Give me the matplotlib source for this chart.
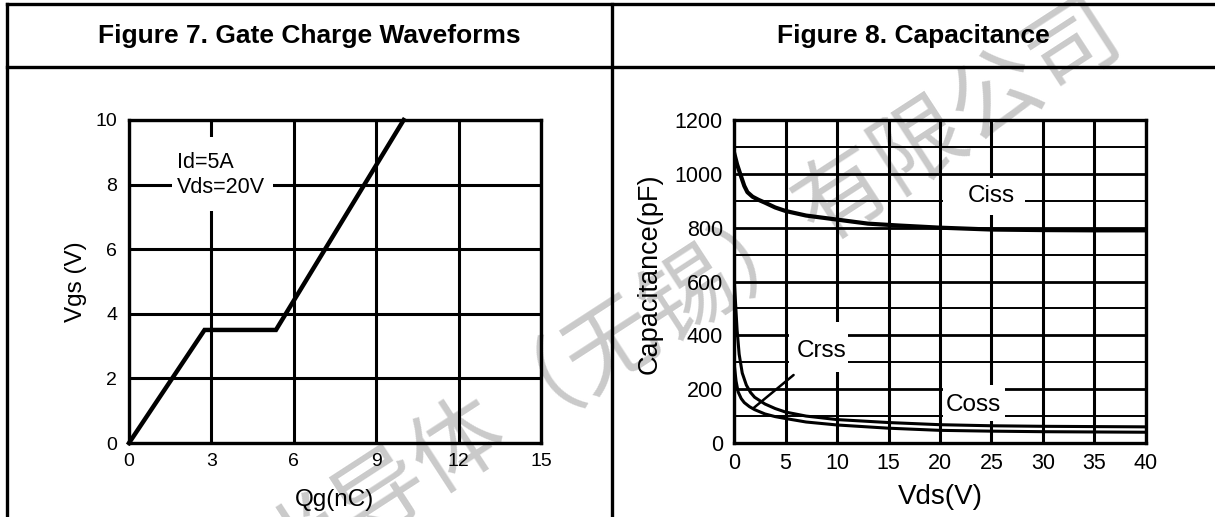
import matplotlib
matplotlib.use("Agg")
import matplotlib.pyplot as plt
from matplotlib.lines import Line2D
from matplotlib.patches import Rectangle

plt.rcParams["font.family"] = ["Liberation Sans", "DejaVu Sans"]

# figure 7: gate charge
qg = [0, 2.75, 5.35, 10.0]
vgs = [0, 3.5, 3.5, 10.0]

# figure 8: capacitance vs vds
ciss_v = [0, 0.3, 0.6, 1.0, 1.3, 1.8, 2.4, 3, 4, 5, 7, 10, 13, 16, 20, 25, 30, 35, 40]
ciss = [1080, 1035, 1000, 955, 932, 915, 903, 893, 875, 862, 845, 830, 815, 808, 800, 793, 791, 790, 790]
coss_v = [0, 0.15, 0.3, 0.5, 0.8, 1.2, 1.6, 2, 3, 4, 5, 7, 10, 15, 20, 25, 30, 35, 40]
coss = [620, 520, 420, 330, 260, 215, 188, 170, 145, 128, 115, 100, 87, 76, 68, 64, 62, 61, 60]
crss_v = [0, 0.2, 0.4, 0.7, 1.0, 1.5, 2, 3, 4, 5, 7, 10, 15, 20, 25, 30, 35, 40]
crss = [300, 230, 190, 165, 150, 135, 124, 108, 98, 91, 78, 67, 55, 47, 44, 42, 41, 40]

W, H = 1215, 517
fig = plt.figure(figsize=(W / 100, H / 100), dpi=100)


def fx(px):
    return px / W


def fy(py):
    return 1 - py / H


# watermark behind everything
fig.text(fx(1112), fy(22), "半导体（无锡）有限公司", rotation=33, rotation_mode="anchor",
         ha="right", va="center", fontsize=66, color="#cacaca",
         family=["Noto Sans CJK SC", "DejaVu Sans"], zorder=-1)

# table frame
for xs, ys in [((7, W), (4, 4)), ((7, W), (67, 67)), ((7, 7), (4, H)), ((612, 612), (4, H))]:
    fig.add_artist(Line2D([fx(x) for x in xs], [fy(y) for y in ys], color="black",
                          linewidth=2.4, transform=fig.transFigure, zorder=5))

fig.text(fx(309.5), fy(43.5), "Figure 7. Gate Charge Waveforms", ha="center", va="baseline",
         fontsize=19, fontweight="bold")
fig.text(fx(913.5), fy(43.5), "Figure 8. Capacitance", ha="center", va="baseline",
         fontsize=19, fontweight="bold")

# --- left: gate charge ---
ax1 = fig.add_axes([fx(129), 74 / H, 412 / W, 323 / H])
ax1.patch.set_alpha(0)
ax1.set_xlim(0, 15)
ax1.set_ylim(0, 10)
ax1.set_xticks([0, 3, 6, 9, 12, 15])
ax1.set_yticks([0, 2, 4, 6, 8, 10])
ax1.set_axisbelow(True)
ax1.grid(True, color="black", linewidth=2.2)
ax1.tick_params(length=0, labelsize=14, pad=7)
ax1.tick_params(axis="y", pad=8.5)
for s in ax1.spines.values():
    s.set_linewidth(2.4)

ax1.add_patch(Rectangle((1.55, 7.17), 3.7, 2.3, facecolor="white", edgecolor="none", zorder=1))
ax1.text(1.76, 8.67, "Id=5A", ha="left", va="center", fontsize=15.5, zorder=3)
ax1.text(1.76, 7.9, "Vds=20V", ha="left", va="center", fontsize=15.5, zorder=3)
ax1.plot(qg, vgs, color="black", linewidth=3.2, solid_joinstyle="miter", zorder=2, clip_on=False)

ax1.set_xlabel("Qg(nC)", fontsize=17.5)
ax1.xaxis.set_label_coords(0.5, -0.1765)
ax1.xaxis.label.set_va("center")
ax1.set_ylabel("Vgs (V)", fontsize=17.5)
ax1.yaxis.set_label_coords(-0.1286, 0.5)
ax1.yaxis.label.set_va("center")

# --- right: capacitance ---
ax2 = fig.add_axes([fx(734), 74 / H, 412 / W, 323 / H])
ax2.patch.set_alpha(0)
ax2.set_xlim(0, 40)
ax2.set_ylim(0, 1200)
ax2.set_xticks(range(0, 41, 5))
ax2.set_yticks(range(0, 1201, 200))
ax2.set_yticks(range(100, 1200, 200), minor=True)
ax2.set_axisbelow(True)
ax2.grid(True, axis="x", color="black", linewidth=2.2)
ax2.grid(True, axis="y", which="major", color="black", linewidth=2.0)
ax2.grid(True, axis="y", which="minor", color="black", linewidth=1.4)
ax2.tick_params(which="both", length=0, labelsize=15.5, pad=7.5)
ax2.tick_params(axis="y", pad=8)
for s in ax2.spines.values():
    s.set_linewidth(2.4)

ax2.add_patch(Rectangle((20.3, 848), 8.0, 137, facecolor="white", edgecolor="none", zorder=1))
ax2.add_patch(Rectangle((20.3, 80), 6.0, 135, facecolor="white", edgecolor="none", zorder=1))
ax2.add_patch(Rectangle((5.3, 265), 5.8, 185, facecolor="white", edgecolor="none", zorder=1))

ax2.plot(ciss_v, ciss, color="black", linewidth=3.0, zorder=2)
ax2.plot(coss_v, coss, color="black", linewidth=2.2, zorder=2)
ax2.plot(crss_v, crss, color="black", linewidth=2.2, zorder=2)

ax2.text(25, 916, "Ciss", ha="center", va="center", fontsize=17.5, zorder=3)
ax2.text(23.2, 141, "Coss", ha="center", va="center", fontsize=17.5, zorder=3)
ax2.annotate("Crss", xy=(1.87, 129), xytext=(8.55, 340), ha="center", va="center",
             fontsize=17.5, zorder=3,
             arrowprops=dict(arrowstyle="-", color="black", linewidth=1.8,
                             shrinkA=11, shrinkB=0))

ax2.set_xlabel("Vds(V)", fontsize=20)
ax2.xaxis.set_label_coords(0.5, -0.167)
ax2.xaxis.label.set_va("center")
ax2.set_ylabel("Capacitance(pF)", fontsize=19.5)
ax2.yaxis.set_label_coords(-0.2039, 0.523)
ax2.yaxis.label.set_va("center")

fig.savefig("out.png", dpi=100)
